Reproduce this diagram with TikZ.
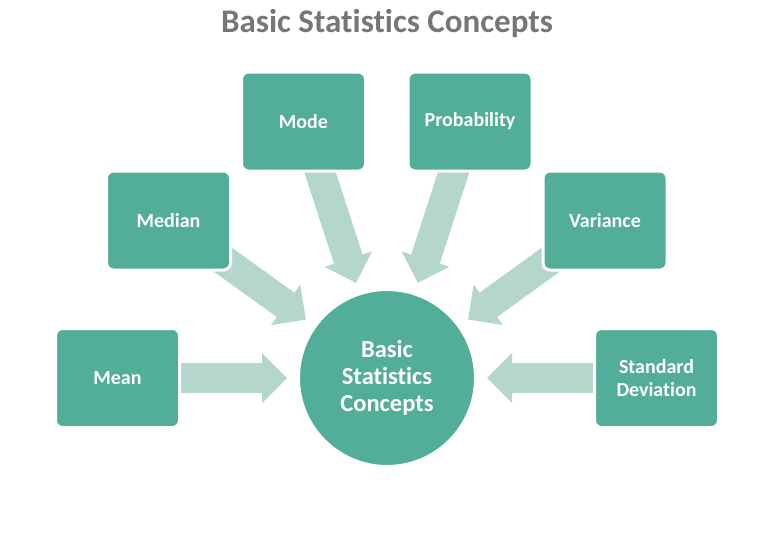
\documentclass[tikz,border=0pt]{standalone}
\usepackage{fontspec}
\setmainfont{Carlito}[Ligatures=NoCommon]
\usetikzlibrary{arrows.meta,calc,backgrounds}
\definecolor{tealbox}{HTML}{52AE98}
\definecolor{arrowc}{HTML}{B4D6CC}
\definecolor{titlegray}{HTML}{767676}
\begin{document}
\begin{tikzpicture}[x=1pt,y=-1pt,
  box/.style={rectangle, rounded corners=7pt, fill=tealbox, draw=white, line width=3pt,
    minimum width=124pt, minimum height=99pt, text=white, inner sep=0pt, align=center,
    font=\bfseries\fontsize{20}{23}\selectfont},
  hub/.style={circle, fill=tealbox, draw=white, line width=3pt, minimum size=177pt,
    text=white, inner sep=0pt, align=center, font=\bfseries\fontsize{24.5}{27}\selectfont},
  blockarrow/.style={draw=arrowc, line width=30pt,
    -{Triangle[width=50pt,length=25pt,line width=0pt]}},
  titlestyle/.style={text=titlegray, font=\bfseries\fontsize{33}{40}\selectfont, inner sep=0pt}]
\useasboundingbox (0,0) rectangle (770,535);

\node[titlestyle, anchor=base] (title) at (387,33) {Basic Statistics Concepts};

\node[hub] (hub) at (387,378) {Basic\\Statistics\\Concepts};
\node[box] (mean) at (117.5,378) {Mean};
\node[box] (median) at (168.5,220.5) {Median};
\node[box] (mode) at (303.5,121.5) {Mode};
\node[box] (prob) at (470,121.5) {Probability};
\node[box] (var) at (605,220.5) {Variance};
\node[box] (std) at (656.5,378) {Standard\\Deviation};

\begin{pgfonlayer}{background}
\foreach \b in {mean,median,mode,prob,var,std}{
  \draw[blockarrow] (\b.center) -- ($(hub.center)!100pt!(\b.center)$);
}
\end{pgfonlayer}
\end{tikzpicture}
\end{document}
